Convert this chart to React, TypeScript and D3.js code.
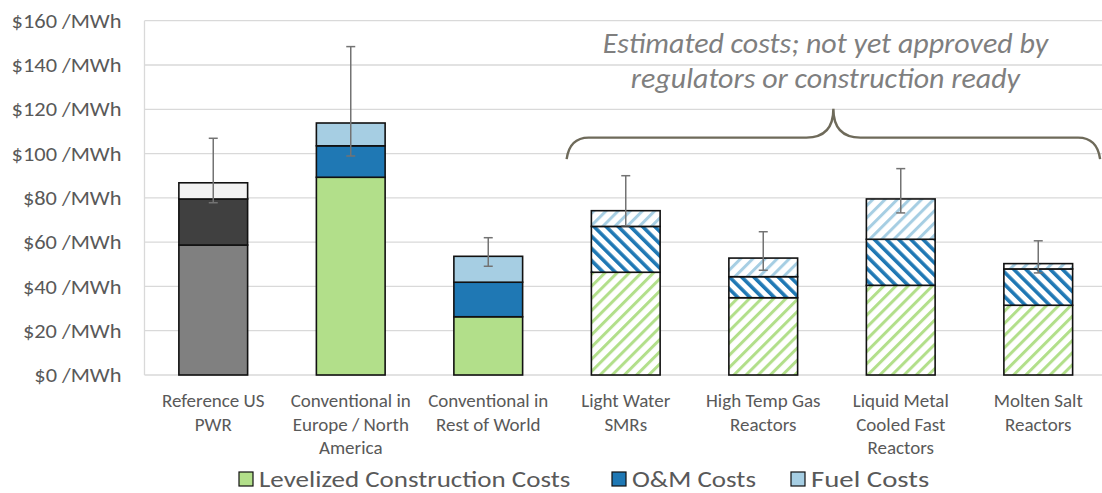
import React from 'react';
import * as d3 from 'd3';

// category labels, split into the lines shown under each bar
const categories = [
  ['Reference US', 'PWR'],
  ['Conventional in', 'Europe / North', 'America'],
  ['Conventional in', 'Rest of World'],
  ['Light Water', 'SMRs'],
  ['High Temp Gas', 'Reactors'],
  ['Liquid Metal', 'Cooled Fast', 'Reactors'],
  ['Molten Salt', 'Reactors'],
];
// 'ref' = greyed reference, 'solid' = built, 'hatch' = estimated
const barKinds = ['ref', 'solid', 'solid', 'hatch', 'hatch', 'hatch', 'hatch'];

const construction = [58.7, 89.3, 26.3, 46.4, 34.9, 40.5, 31.5];
const omCosts = [20.8, 14.2, 15.6, 20.7, 9.5, 20.8, 16.4];
const fuelCosts = [7.3, 10.3, 11.7, 7.1, 8.4, 18.2, 2.4];
const errLow = [77.8, 98.9, 49.1, 67.4, 47.3, 73.2, 46.1];
const errHigh = [106.9, 148.3, 62, 90, 64.7, 93.2, 60.6];

const seriesNames = ['Levelized Construction Costs', 'O&M Costs', 'Fuel Costs'];
const yTicks = [0, 20, 40, 60, 80, 100, 120, 140, 160];

const annotation = ['Estimated costs; not yet approved by', 'regulators or construction ready'];

const W = 1102, H = 493;
const plot = { left: 144.5, top: 20.7, bottom: 375, right: 1107 };
const FONT = 'Calibri, Carlito, Lato, sans-serif';
const textGrey = '#595959';

const seriesColors = ['#b2df8a', '#1f78b4', '#a6cee3'];
const refColors = ['#808080', '#404040', '#f2f2f2'];
const hatchDir = [45, -45, 45];
const stripeWidth = [3, 3.6, 3];

export default function App() {
  const keys = ['c', 'o', 'f'];
  const rows = categories.map((_, i) => ({ i, c: construction[i], o: omCosts[i], f: fuelCosts[i] }));
  const stacked = d3.stack<any>().keys(keys)(rows);

  const x = d3.scaleBand<number>()
    .domain(d3.range(categories.length))
    .range([plot.left, plot.right])
    .paddingInner(0.5)
    .paddingOuter(0.25);
  const y = d3.scaleLinear().domain([0, 160]).range([plot.bottom, plot.top]);

  const bw = x.bandwidth();
  const step = x.step();

  // brace spanning the estimated designs
  const bx0 = x(3)! - step * 0.18;
  const bx1 = x(6)! + bw + step * 0.2;
  const bm = (bx0 + bx1) / 2;
  const yEnd = y(97.5), yFlat = y(107.2), yPeak = y(120.2);
  const brace = `M${bx0},${yEnd} Q${bx0 + 3},${yFlat} ${bx0 + 22},${yFlat} L${bm - 27},${yFlat} Q${bm},${yFlat} ${bm},${yPeak} Q${bm},${yFlat} ${bm + 27},${yFlat} L${bx1 - 22},${yFlat} Q${bx1 - 3},${yFlat} ${bx1},${yEnd}`;

  const fillFor = (s: number, i: number) => {
    if (barKinds[i] === 'ref') return refColors[s];
    if (barKinds[i] === 'hatch') return `url(#hatch${s})`;
    return seriesColors[s];
  };

  const legendX = [239, 612, 791];
  const legendStretch = [1.2, 1.2, 1.28];

  return (
    <svg width={W} height={H} xmlns="http://www.w3.org/2000/svg"
      style={{ position: 'absolute', left: 0, top: 0, background: '#fff' }}>
      <defs>
        {seriesColors.map((c, s) => (
          <pattern key={s} id={`hatch${s}`} width={8.6} height={8.6} patternUnits="userSpaceOnUse"
            patternTransform={`rotate(${hatchDir[s]})`}>
            <rect width={8.6} height={8.6} fill="#fff" />
            <rect width={stripeWidth[s]} height={8.6} fill={c} />
          </pattern>
        ))}
      </defs>
      <rect width={W} height={H} fill="#fff" />

      {/* grid */}
      {yTicks.map((t) => (
        <line key={`g${t}`} x1={plot.left} x2={plot.right} y1={y(t)} y2={y(t)} stroke="#d9d9d9" strokeWidth={1.3} />
      ))}
      <line x1={plot.left} x2={plot.left} y1={plot.top} y2={plot.bottom} stroke="#d9d9d9" strokeWidth={1.3} />

      {/* y labels, widened a little like the source */}
      {yTicks.map((t) => (
        <g key={`yl${t}`} transform={`translate(121.5, ${y(t)}) scale(1.12, 1)`}>
          <text dy="0.36em" textAnchor="end" fill={textGrey} fontFamily={FONT} fontSize={20}>{`$${t} /MWh`}</text>
        </g>
      ))}

      {/* stacked bars */}
      {stacked.map((layer, s) => (
        <g key={`s${s}`}>
          {layer.map((d, i) => (
            <rect key={i} x={x(i)} y={y(d[1])} width={bw} height={y(d[0]) - y(d[1])}
              fill={fillFor(s, i)} stroke="#111" strokeWidth={1.6} />
          ))}
        </g>
      ))}

      {/* error bars */}
      {categories.map((_, i) => {
        const cx = x(i)! + bw / 2;
        return (
          <g key={`e${i}`} stroke="#737373" strokeWidth={1.5}>
            <line x1={cx} x2={cx} y1={y(errLow[i])} y2={y(errHigh[i])} />
            <line x1={cx - 4.5} x2={cx + 4.5} y1={y(errLow[i])} y2={y(errLow[i])} />
            <line x1={cx - 4.5} x2={cx + 4.5} y1={y(errHigh[i])} y2={y(errHigh[i])} />
          </g>
        );
      })}

      {/* category labels */}
      {categories.map((lines, i) => (
        <text key={`c${i}`} textAnchor="middle" fill={textGrey} fontFamily={FONT} fontSize={19}>
          {lines.map((l, k) => (
            <tspan key={k} x={x(i)! + bw / 2} y={407 + k * 23.6}>{l}</tspan>
          ))}
        </text>
      ))}

      {/* annotation */}
      <path d={brace} fill="none" stroke="#6e6a5a" strokeWidth={2.4} />
      <g transform={`translate(${bm - 8}, 0) scale(1.07, 1)`}>
        <text textAnchor="middle" fill="#7f7f7f" fontFamily={FONT} fontStyle="italic" fontSize={28}>
          {annotation.map((l, k) => (
            <tspan key={k} x={0} y={53 + k * 35.5}>{l}</tspan>
          ))}
        </text>
      </g>

      {/* legend */}
      {seriesNames.map((n, s) => (
        <g key={`l${s}`}>
          <rect x={legendX[s]} y={472} width={14} height={14} fill={seriesColors[s]} stroke="#111" strokeWidth={1.2} />
          <g transform={`translate(${legendX[s] + 20}, 487) scale(${legendStretch[s]}, 1)`}>
            <text fill={textGrey} fontFamily={FONT} fontSize={22.5}>{n}</text>
          </g>
        </g>
      ))}
    </svg>
  );
}
